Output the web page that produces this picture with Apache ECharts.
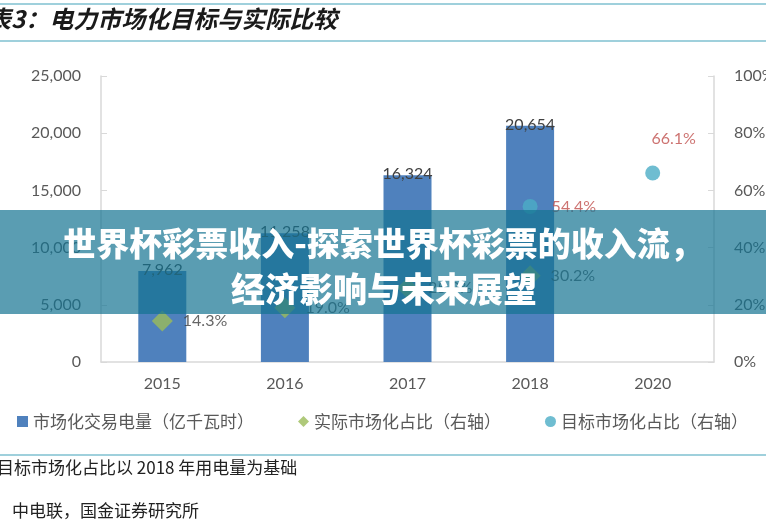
<!DOCTYPE html>
<html>
<head>
<meta charset="utf-8">
<script src="https://cdn.jsdelivr.net/npm/echarts@6/dist/echarts.min.js"></script>
<style>
	html, body { margin: 0; padding: 0; background: #fff; }
	#chart { width: 766px; height: 526px; }
</style>
</head>
<body>
<div id="chart"></div>
<script>
	// 数据
	const years = ['2015', '2016', '2017', '2018', '2020']
	const tradeVolume = [7962, 11258, 16324, 20654, null]   // 亿千瓦时
	const actualShare = [14.3, 19.0, 25.9, 30.2, null]      // %
	const targetShare = [null, null, null, 54.4, 66.1]      // %
	const leftTicks = [0, 25000, 5000]
	const rightTicks = [0, 100, 20]

	const cjk = '"Noto Sans CJK SC", sans-serif'
	const num = 'Lato, "Noto Sans CJK SC", sans-serif'

	let myChart = echarts.init(document.getElementById('chart'))
	myChart.setOption({
		animation: false,
		textStyle: { fontFamily: num },
		grid: { left: 101, right: 52, top: 76, bottom: 164, outerBoundsMode: 'none' },
		legend: {
			left: 12,
			top: 408,
			itemWidth: 11,
			itemHeight: 11,
			itemGap: 44,
			textStyle: { fontFamily: cjk, fontSize: 17, color: '#595959' },
			data: [
				{ name: '市场化交易电量（亿千瓦时）', icon: 'rect' },
				{ name: '实际市场化占比（右轴）', icon: 'diamond' },
				{ name: '目标市场化占比（右轴）', icon: 'circle' }
			]
		},
		xAxis: {
			type: 'category',
			data: years,
			axisLine: { lineStyle: { color: '#d9d9d9', width: 1.5 } },
			axisTick: { show: false },
			axisLabel: { fontSize: 16, color: '#595959', margin: 14 }
		},
		yAxis: [{
				type: 'value',
				min: leftTicks[0],
				max: leftTicks[1],
				interval: leftTicks[2],
				axisLine: { show: true, lineStyle: { color: '#d9d9d9', width: 1.5 } },
				axisTick: { show: true, inside: true, length: 6, lineStyle: { color: '#d9d9d9' } },
				splitLine: { show: false },
				axisLabel: {
					fontSize: 16, color: '#595959', margin: 20,
					formatter: v => v.toLocaleString('en-US')
				}
			},
			{
				type: 'value',
				min: rightTicks[0],
				max: rightTicks[1],
				interval: rightTicks[2],
				axisLine: { show: true, lineStyle: { color: '#d9d9d9', width: 1.5 } },
				axisTick: { show: true, inside: true, length: 6, lineStyle: { color: '#d9d9d9' } },
				splitLine: { show: false },
				axisLabel: { fontSize: 16, color: '#595959', margin: 20, formatter: '{value}%' }
			}
		],
		series: [{
				name: '市场化交易电量（亿千瓦时）',
				type: 'bar',
				data: tradeVolume,
				barWidth: 48,
				itemStyle: { color: '#4f81bd' },
				label: {
					show: true,
					position: 'top',
					distance: -7,
					fontSize: 16,
					color: '#404040',
					formatter: p => p.value == null ? '' : p.value.toLocaleString('en-US')
				}
			},
			{
				name: '实际市场化占比（右轴）',
				type: 'scatter',
				yAxisIndex: 1,
				data: actualShare,
				symbol: 'diamond',
				symbolSize: 21,
				itemStyle: { color: '#9bbb59' },
				label: {
					show: true,
					position: 'right',
					distance: 10,
					fontSize: 16,
					color: '#404040',
					formatter: p => p.value.toFixed(1) + '%'
				}
			},
			{
				name: '目标市场化占比（右轴）',
				type: 'scatter',
				yAxisIndex: 1,
				data: targetShare.map((v, i) => i === 4 ? {
					value: v,
					label: { position: 'top', offset: [21, -5] }
				} : v),
				symbol: 'circle',
				symbolSize: 15,
				itemStyle: { color: '#4bacc6' },
				label: {
					show: true,
					position: 'right',
					distance: 14,
					fontSize: 16,
					color: '#c0504d',
					formatter: p => p.value.toFixed(1) + '%'
				}
			}
		],
		graphic: [
			// 标题与分隔线
			{ type: 'line', shape: { x1: 0, y1: 4, x2: 766, y2: 4 }, style: { stroke: '#9fd0dc', lineWidth: 2 } },
			{ type: 'line', shape: { x1: 0, y1: 41, x2: 766, y2: 41 }, style: { stroke: '#9fd0dc', lineWidth: 2 } },
			{
				type: 'text', left: -13, top: 7,
				style: {
					text: '表3：电力市场化目标与实际比较',
					font: 'italic bold 24px "Noto Sans CJK SC", sans-serif',
					fill: '#1a1a1a'
				}
			},
			{ type: 'line', shape: { x1: 0, y1: 455, x2: 766, y2: 455 }, style: { stroke: '#9fd0dc', lineWidth: 2 } },
			{
				type: 'text', left: -3, top: 459,
				style: { text: '目标市场化占比以 2018 年用电量为基础', font: '17px "Noto Sans CJK SC", sans-serif', fill: '#222' }
			},
			{
				type: 'text', left: 12, top: 502,
				style: { text: '中电联，国金证券研究所', font: '17px "Noto Sans CJK SC", sans-serif', fill: '#222' }
			},
			// 横幅
			{
				type: 'rect', z: 100,
				shape: { x: 0, y: 210, width: 766, height: 104 },
				style: { fill: 'rgba(20,115,145,0.7)' }
			},
			{
				type: 'text', z: 101, x: 383, y: 243,
				style: {
					text: '世界杯彩票收入-探索世界杯彩票的收入流，',
					font: '900 33px "Noto Sans CJK SC", sans-serif',
					fill: '#fff', align: 'center', verticalAlign: 'middle',
					shadowColor: 'rgba(0,0,0,0.35)', shadowBlur: 2
				}
			},
			{
				type: 'text', z: 101, x: 384, y: 289,
				style: {
					text: '经济影响与未来展望',
					font: '900 34px "Noto Sans CJK SC", sans-serif',
					fill: '#fff', align: 'center', verticalAlign: 'middle',
					shadowColor: 'rgba(0,0,0,0.35)', shadowBlur: 2
				}
			}
		]
	})
</script>
</body>
</html>
